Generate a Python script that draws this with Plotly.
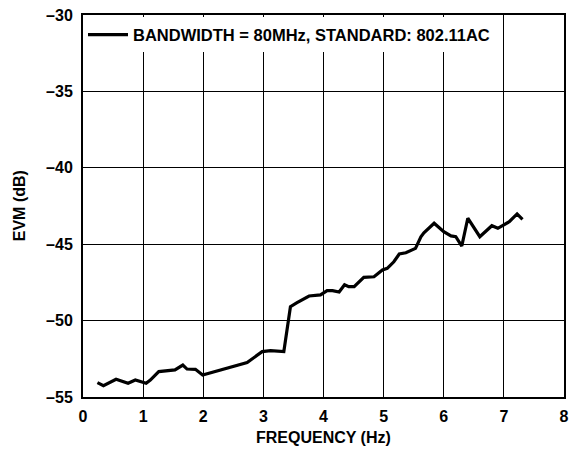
import plotly.graph_objects as go

freq = [0.24, 0.34, 0.55, 0.75, 0.87, 0.97, 1.05, 1.12, 1.26, 1.53, 1.66, 1.73, 1.87, 1.99,
        2.28, 2.65, 2.73, 2.98, 3.12, 3.34, 3.45, 3.56, 3.76, 3.95, 4.06, 4.15, 4.26, 4.35,
        4.42, 4.51, 4.67, 4.84, 4.98, 5.06, 5.17, 5.26, 5.37, 5.53, 5.62, 5.67, 5.84, 6.0,
        6.12, 6.2, 6.3, 6.4, 6.6, 6.8, 6.9, 7.09, 7.22, 7.31]
evm = [-54.06, -54.26, -53.84, -54.10, -53.89, -54.0, -54.10, -53.89, -53.34, -53.23, -52.91,
       -53.17, -53.19, -53.56, -53.23, -52.8, -52.75, -52.03, -51.97, -52.03, -49.09, -48.83,
       -48.39, -48.32, -48.04, -48.04, -48.13, -47.65, -47.78, -47.78, -47.17, -47.13, -46.69,
       -46.58, -46.15, -45.64, -45.56, -45.27, -44.51, -44.25, -43.63, -44.18, -44.46, -44.51,
       -45.12, -43.3, -44.51, -43.79, -43.96, -43.53, -43.02, -43.37]

x_ticks = [0, 1, 2, 3, 4, 5, 6, 7, 8]
y_ticks = [-55, -50, -45, -40, -35, -30]
y_labels = ["\u201355", "\u201350", "\u201345", "\u201340", "\u201335", "\u201330"]
series_name = "BANDWIDTH = 80MHz, STANDARD: 802.11AC"
x_title = "FREQUENCY (Hz)"
y_title = "EVM (dB)"

FAM = "Liberation Sans, Arial, sans-serif"
tick_font = dict(family=FAM, size=16, color="black", weight="bold")
title_font = dict(family=FAM, size=16, color="black", weight="bold")
legend_font = dict(family=FAM, size=16.5, color="black", weight="bold")

fig = go.Figure()
fig.add_trace(go.Scatter(x=freq, y=evm, mode="lines", name=series_name,
                         line=dict(color="black", width=3.2)))

fig.update_layout(
    width=570, height=451,
    margin=dict(l=83, r=6, t=15, b=54, autoexpand=False),
    paper_bgcolor="white", plot_bgcolor="white",
    font=tick_font,
    showlegend=True,
    legend=dict(x=0.0, y=0.948, xanchor="left", yanchor="middle",
                bgcolor="white", borderwidth=0, itemwidth=40,
                font=legend_font),
    xaxis=dict(range=[0, 8], tickvals=x_ticks, showgrid=True, gridcolor="black", gridwidth=1,
               showline=True, linecolor="black", linewidth=2, mirror=True, ticks="",
               zeroline=False, tickfont=tick_font, automargin=False, ticklabelstandoff=4),
    yaxis=dict(range=[-55, -30], tickvals=y_ticks, ticktext=y_labels, showgrid=True,
               gridcolor="black", gridwidth=1, showline=True, linecolor="black", linewidth=2,
               mirror=True, ticks="", zeroline=False, tickfont=tick_font, automargin=False,
               ticklabelstandoff=5),
    annotations=[
        dict(text=x_title, xref="paper", yref="paper", x=0.5, y=-0.107,
             xanchor="center", yanchor="middle", showarrow=False, font=title_font),
        dict(text=y_title, xref="paper", yref="paper", x=-0.1326, y=0.5, textangle=-90,
             xanchor="center", yanchor="middle", showarrow=False, font=title_font),
    ],
)

fig.write_html("out.html", config={"displayModeBar": False},
               post_script="document.body.style.margin='0';document.body.style.overflow='hidden';")
